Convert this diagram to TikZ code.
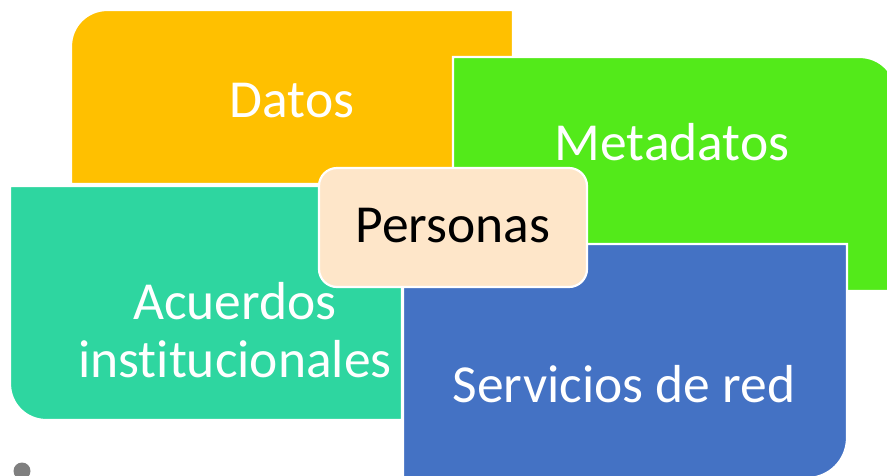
\documentclass[tikz,border=0pt]{standalone}
\usepackage{fontspec}
\setmainfont{Carlito}[Ligatures=NoCommon]
\definecolor{cOrange}{HTML}{FFC000}
\definecolor{cGreen}{HTML}{53EA1A}
\definecolor{cTeal}{HTML}{2ED6A0}
\definecolor{cBlue}{HTML}{4472C4}
\definecolor{cPeach}{HTML}{FEE6C9}
\definecolor{cDot}{HTML}{7F7F7F}
\tikzset{
  panel/.style={draw=white, line width=2.2pt},
  lbl/.style={inner sep=0pt, anchor=base, text=white, font=\fontsize{53.5}{60}\selectfont},
}
\begin{document}
\begin{tikzpicture}[x=1pt,y=-1pt]
\useasboundingbox (0,0) rectangle (887,475);
\clip (0,0) rectangle (887,475);
% Datos (orange)
\path[panel, fill=cOrange] (71,184) [rounded corners=36pt] -- (71,10) [sharp corners] -- (513,10) -- (513,184) -- cycle;
% Metadatos (green)
\path[panel, fill=cGreen] (453,57) [rounded corners=36pt] -- (896,57) [sharp corners] -- (896,291) -- (453,291) -- cycle;
% Acuerdos (teal)
\path[panel, fill=cTeal] (10,186) [rounded corners=36pt] -- (10,420) [sharp corners] -- (402,420) -- (402,186) -- cycle;
% Servicios (blue)
\path[panel, fill=cBlue] (403,244) -- (847,244) [rounded corners=40pt] -- (847,478) [sharp corners] -- (403,478) -- cycle;
% Personas
\path[panel, fill=cPeach, rounded corners=18pt] (319,168) rectangle (587,287);
% bullet dot
\fill[cDot] (22,471) circle (8.5);
% labels
\node[lbl] (datos) at (292,117) {Datos};
\node[lbl] (metadatos) at (672,160) {Metadatos};
\node[lbl] (acuerdos) at (235,319) {Acuerdos};
\node[lbl] (institucionales) at (235,377) {institucionales};
\node[lbl] (servicios) at (624,402) {Servicios de red};
\node[lbl, text=black] (personas) at (453,242) {Personas};
\end{tikzpicture}
\end{document}
